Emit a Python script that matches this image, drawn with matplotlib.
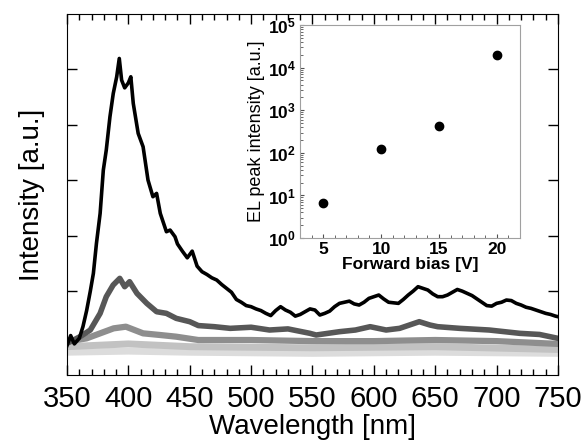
import matplotlib
matplotlib.use("Agg")
import matplotlib.pyplot as plt
from matplotlib.ticker import MultipleLocator, LogLocator, NullFormatter, FixedLocator, FuncFormatter
import numpy as np

plt.rcParams['font.family'] = ['Liberation Sans', 'DejaVu Sans']
plt.rcParams['mathtext.fontset'] = 'custom'
plt.rcParams['mathtext.rm'] = 'Liberation Sans'
plt.rcParams['mathtext.bf'] = 'Liberation Sans:bold'

# EL spectra (arbitrary units)
wl_20V = [350, 353, 356, 360, 363, 366, 369, 371.5, 374, 377, 379.6, 382, 385, 387.7,
          390.5, 392.6, 394.5, 397, 400, 402, 404, 408, 412, 416, 420, 423, 426, 431,
          434, 438, 440, 444, 448, 452, 456, 460, 464, 468, 472, 476, 480, 484, 488, 492,
          496, 500, 504, 508, 512, 516, 520, 524, 528, 532, 536, 540, 544, 548, 552, 556,
          560, 564, 568, 572, 576, 580, 584, 588, 592, 596, 600, 604, 608, 612, 616, 620,
          624, 628, 632, 636, 640, 644, 648, 652, 656, 660, 664, 668, 672, 676, 680, 684,
          688, 692, 696, 700, 704, 708, 712, 716, 720, 724, 728, 732, 736, 740, 744, 748, 750]
int_20V = [0.02, 0.2, 0.05, 0.15, 0.36, 0.65, 1.0, 1.32, 1.86, 2.4, 3.18, 3.54, 4.14, 4.56,
           4.86, 5.19, 4.80, 4.66, 4.75, 4.86, 4.38, 3.84, 3.6, 3.0, 2.7, 2.76, 2.4, 2.07,
           2.1, 1.98, 1.85, 1.72, 1.6, 1.72, 1.45, 1.35, 1.3, 1.24, 1.2, 1.12, 1.05, 0.98, 0.85, 0.8,
           0.74, 0.72, 0.68, 0.65, 0.6, 0.56, 0.65, 0.72, 0.66, 0.62, 0.55, 0.58, 0.63, 0.68, 0.66, 0.57,
           0.6, 0.64, 0.72, 0.78, 0.8, 0.82, 0.77, 0.75, 0.8, 0.87, 0.9, 0.93, 0.86, 0.8, 0.79, 0.78,
           0.85, 0.93, 1.0, 1.08, 1.05, 1.02, 0.95, 0.9, 0.9, 0.93, 0.98, 1.03, 1.0, 0.96, 0.92, 0.86,
           0.8, 0.74, 0.73, 0.78, 0.8, 0.84, 0.83, 0.78, 0.75, 0.71, 0.69, 0.66, 0.63, 0.6, 0.58, 0.55, 0.54]

wl_15V = [350, 360.6, 369, 377, 382, 387.6, 393, 397, 401, 407, 415, 423, 431, 439,
          450, 457, 470, 483, 500, 515, 530, 548, 553, 572, 585, 597, 610, 621, 637,
          645.7, 652, 670, 694, 719, 735, 750]
int_15V = [0.06, 0.18, 0.3, 0.6, 0.9, 1.11, 1.23, 1.08, 1.17, 0.96, 0.78, 0.63, 0.6, 0.51,
           0.45, 0.38, 0.36, 0.33, 0.35, 0.3, 0.32, 0.24, 0.21, 0.27, 0.3, 0.36, 0.3, 0.33, 0.45,
           0.39, 0.36, 0.33, 0.3, 0.24, 0.22, 0.15]

wl_10V = [350, 366, 377, 388, 398, 412, 426, 439, 457, 500, 550, 600, 650, 700, 750]
int_10V = [0.09, 0.15, 0.24, 0.33, 0.36, 0.24, 0.21, 0.18, 0.12, 0.12, 0.1, 0.1, 0.12, 0.1, 0.05]

wl_5V = [350, 400, 450, 550, 650, 750]
int_5V = [0.0, 0.05, 0.0, -0.02, 0.0, -0.05]

wl_0V = [350, 400, 450, 550, 650, 750]
int_0V = [-0.1, -0.08, -0.1, -0.12, -0.1, -0.12]

# inset: EL peak intensity vs forward bias
bias = [5, 10, 15, 20]
peak = [6.8, 123, 425, 19500]

fig = plt.figure(figsize=(5.82, 4.45), dpi=100)
ax = fig.add_axes([0.1151, 0.1573, 0.8436, 0.8112])

ax.plot(wl_0V, int_0V, color='#dcdcdc', lw=5)
ax.plot(wl_5V, int_5V, color='#c2c2c2', lw=5)
ax.plot(wl_10V, int_10V, color='#8e8e8e', lw=4.5)
ax.plot(wl_15V, int_15V, color='#575757', lw=4)
ax.plot(wl_20V, int_20V, color='black', lw=2.6)

ax.set_xlim(350, 750)
ax.set_ylim(-0.51, 5.99)
ax.xaxis.set_major_locator(MultipleLocator(50))
ax.xaxis.set_minor_locator(MultipleLocator(10))
ax.yaxis.set_major_locator(MultipleLocator(1))
ax.set_yticklabels([])
ax.tick_params(which='both', direction='in', top=True, right=True, width=1)
ax.tick_params(which='major', length=7, labelsize=21)
ax.tick_params(which='minor', length=4)
ax.tick_params(axis='x', pad=7)
ax.set_xlabel('Wavelength [nm]', fontsize=20, labelpad=1)
ax.set_ylabel('Intensity [a.u.]', fontsize=20, labelpad=12)

ins = fig.add_axes([0.5155, 0.465, 0.378, 0.4787])
ins.plot(bias, peak, 'o', color='black', ms=6)
ins.set_yscale('log')
ins.set_xlim(3, 22)
ins.set_ylim(1, 1e5)
ins.xaxis.set_major_locator(FixedLocator([5, 10, 15, 20]))
ins.xaxis.set_minor_locator(MultipleLocator(1))
ins.yaxis.set_major_locator(LogLocator(base=10, numticks=10))
ins.yaxis.set_major_formatter(FuncFormatter(lambda v, p: r'$\mathbf{10^{%d}}$' % round(np.log10(v))))
ins.yaxis.set_minor_locator(LogLocator(base=10, subs=range(2, 10), numticks=20))
ins.yaxis.set_minor_formatter(NullFormatter())
for sp in ins.spines.values():
    sp.set_color('#a0a0a0')
ins.tick_params(which='both', direction='in', color='#505050')
ins.tick_params(which='major', length=3, labelsize=12.5, pad=3)
ins.tick_params(which='minor', length=2)
for lbl in ins.get_xticklabels():
    lbl.set_fontweight('bold')
ins.set_xlabel('Forward bias [V]', fontsize=12.5, fontweight='bold', labelpad=0)
ins.set_ylabel('EL peak intensity [a.u.]', fontsize=13, labelpad=2)

fig.savefig('out.png', dpi=100, facecolor='white')
